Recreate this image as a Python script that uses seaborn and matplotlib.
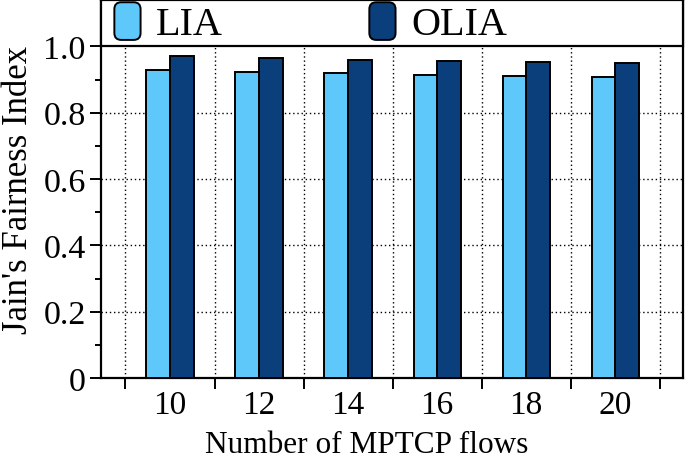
import numpy as np
import pandas as pd
import matplotlib
matplotlib.use("Agg")
import matplotlib.pyplot as plt
import seaborn as sns
from matplotlib.patches import FancyBboxPatch, Rectangle
from matplotlib.legend_handler import HandlerPatch
from matplotlib.ticker import FixedLocator

# --- data ---
flows = [10, 12, 14, 16, 18, 20]
lia = [0.928, 0.924, 0.919, 0.913, 0.911, 0.908]
olia = [0.971, 0.966, 0.960, 0.956, 0.954, 0.949]
algos = ["LIA", "OLIA"]
colors = ["#5ec8fa", "#0b3f7c"]

df = pd.DataFrame({
    "flows": [str(f) for f in flows] * 2,
    "jfi": lia + olia,
    "algo": ["LIA"] * len(flows) + ["OLIA"] * len(flows),
})

sns.set_style("white")
plt.rcParams["font.family"] = ["Liberation Serif", "DejaVu Serif"]
for k in ["text.color", "axes.labelcolor", "xtick.color", "ytick.color"]:
    plt.rcParams[k] = "black"

fig = plt.figure(figsize=(6.85, 4.6), dpi=100)
ax = fig.add_axes([0.1474, 0.176, 0.8496, 0.822])

sns.barplot(data=df, x="flows", y="jfi", hue="algo", palette=colors,
            width=0.53, edgecolor="black", linewidth=1.4, ax=ax,
            saturation=1, zorder=3, legend=False)

ymax = 1.14
ax.set_xlim(-0.775, 5.76)
ax.set_ylim(0, ymax)

# y axis ticks
ax.set_yticks([0, 0.2, 0.4, 0.6, 0.8, 1.0])
ax.set_yticklabels(["0", "0.2", "0.4", "0.6", "0.8", "1.0"])
ax.yaxis.set_minor_locator(FixedLocator([0.1, 0.3, 0.5, 0.7, 0.9]))
ax.tick_params(axis="y", which="major", direction="out", length=8, width=1.4,
               labelsize=24.5, left=True, pad=3)
ax.tick_params(axis="y", which="minor", direction="out", length=4, width=1.4, left=True)

# x axis: labels at groups, tick marks between groups
ax.set_xticks(range(len(flows)))
ax.set_xticklabels([str(f) for f in flows])
ax.xaxis.set_minor_locator(FixedLocator(np.arange(-0.5, len(flows), 1.0)))
ax.tick_params(axis="x", which="major", length=0, labelsize=24, pad=8)
ax.tick_params(axis="x", which="minor", direction="out", length=8, width=1.4, bottom=True)

# dotted grid
for y in [0.2, 0.4, 0.6, 0.8]:
    ax.axhline(y, color="black", linestyle=(0, (1, 2)), linewidth=1.0, zorder=1)
for x in np.arange(-0.5, len(flows), 1.0):
    ax.plot([x, x], [0, 1.0], color="black", linestyle=(0, (1, 2)), linewidth=1.0, zorder=1)

for side in ["left", "bottom", "right", "top"]:
    ax.spines[side].set_visible(True)
    ax.spines[side].set_color("black")
    ax.spines[side].set_linewidth(1.6)

ax.set_xlabel("Number of MPTCP flows", fontsize=22.5)
ax.xaxis.set_label_coords(0.457, -0.196)
ax.xaxis.label.set_va("baseline")
ax.set_ylabel("Jain's Fairness Index", fontsize=25, labelpad=6)


class RoundHandler(HandlerPatch):
    def create_artists(self, legend, orig_handle, xdescent, ydescent,
                       width, height, fontsize, trans):
        p = FancyBboxPatch((-xdescent + 1, -ydescent - 3), width - 2, height + 4,
                           boxstyle="round,pad=0,rounding_size=5",
                           facecolor=orig_handle.get_facecolor(),
                           edgecolor="black", linewidth=1.4, transform=trans)
        return [p]


# legend box across the top of the axes
top_frac = 1.0 / ymax
ax.add_patch(Rectangle((0, top_frac), 1, 1 - top_frac, transform=ax.transAxes,
                       facecolor="white", edgecolor="black", linewidth=1.6,
                       zorder=4, clip_on=False))

handles = [Rectangle((0, 0), 1, 1, facecolor=c) for c in colors]
leg = ax.legend(handles, algos, loc="center left",
                bbox_to_anchor=(12 / 582, (top_frac + 1) / 2), ncol=2,
                frameon=False, borderaxespad=0, borderpad=0,
                fontsize=29, handlelength=0.72, handleheight=0.85,
                handletextpad=0.35, columnspacing=3.6,
                handler_map={Rectangle: RoundHandler()})
leg.set_zorder(5)

fig.savefig("out.png", dpi=100)
